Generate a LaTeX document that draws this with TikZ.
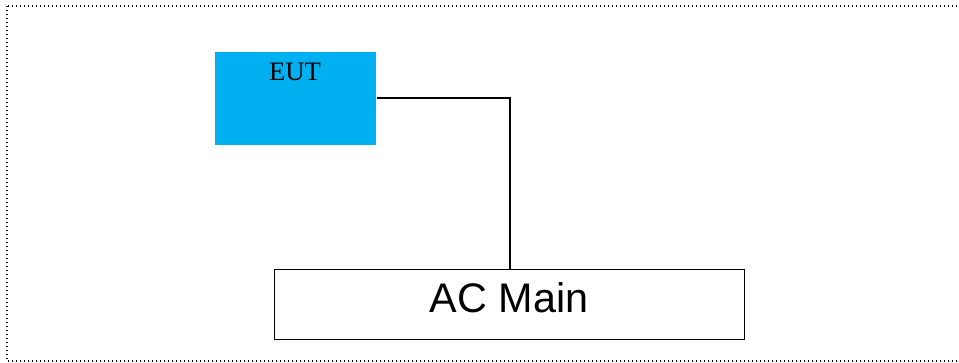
\documentclass[tikz,border=0pt]{standalone}
\usepackage{fontspec}
\setmainfont{Liberation Serif}
\newfontfamily\arialfont{Liberation Sans}
\begin{document}
\begin{tikzpicture}[x=0.75pt,y=-0.75pt,
  framebox/.style={draw=black, line width=1pt, dotted},
  eutbox/.style={fill={rgb,255:red,0;green,176;blue,240}, draw=none, minimum width=161*0.75pt, minimum height=93*0.75pt, inner sep=0pt, anchor=north west},
  mainbox/.style={draw=black, line width=1.1pt, minimum width=470*0.75pt, minimum height=70*0.75pt, inner sep=0pt, anchor=north west},
  wire/.style={draw=black, line width=1.1pt}]
\useasboundingbox (0,0) rectangle (959,363);
\draw[framebox] (7,6) rectangle (965,361);
\node[eutbox] (eut) at (215,52) {};
\node[font=\fontsize{20}{22}\selectfont] (eutlabel) at (295,72) {EUT};
\node[mainbox] (main) at (274,269) {};
\node[font=\arialfont\fontsize{31}{34}\selectfont, inner sep=0pt] (mainlabel) at (509,298) {AC Main};
\coordinate (bend) at (510,98);
\draw[wire] (eut.east |- bend) -- (bend) -- (bend |- main.north);
\end{tikzpicture}
\end{document}
